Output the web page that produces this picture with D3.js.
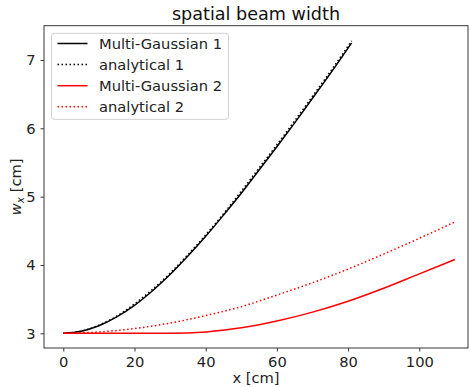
<!DOCTYPE html>
<html>
<head>
<meta charset="utf-8">
<script src="https://cdn.jsdelivr.net/npm/d3@7"></script>
<style>
  body { margin: 0; background: #fff; }
  svg { font-family: "DejaVu Sans", sans-serif; }
</style>
</head>
<body>
<figure id="chart" style="margin:0"></figure>
<script>
// values
var xBlack = [0, 5, 10, 15, 20, 25, 30, 35, 40, 45, 50, 55, 60, 65, 70, 75, 81];
var multiGauss1 = [3.00, 3.03, 3.11, 3.24, 3.41, 3.62, 3.86, 4.13, 4.42, 4.73, 5.05, 5.39, 5.73, 6.08, 6.44, 6.80, 7.25];
var analytical1 = [3.00, 3.03, 3.12, 3.25, 3.43, 3.64, 3.88, 4.15, 4.44, 4.75, 5.08, 5.42, 5.76, 6.11, 6.47, 6.83, 7.28];

var xRed = [0, 10, 20, 30, 40, 50, 60, 70, 80, 90, 100, 110];
var multiGauss2 = [3.00, 3.00, 3.00, 3.00, 3.02, 3.08, 3.18, 3.31, 3.47, 3.66, 3.87, 4.08];
var analytical2 = [3.00, 3.02, 3.07, 3.15, 3.26, 3.39, 3.56, 3.74, 3.94, 4.16, 4.39, 4.63];

var xTicks = [0, 20, 40, 60, 80, 100];
var yTicks = [3, 4, 5, 6, 7];

var seriesNames = ["Multi-Gaussian 1", "analytical 1", "Multi-Gaussian 2", "analytical 2"];

var series = [
  { name: seriesNames[0], xs: xBlack, ys: multiGauss1, color: "#000000", dotted: false },
  { name: seriesNames[1], xs: xBlack, ys: analytical1, color: "#000000", dotted: true },
  { name: seriesNames[2], xs: xRed, ys: multiGauss2, color: "#ff0000", dotted: false },
  { name: seriesNames[3], xs: xRed, ys: analytical2, color: "#ff0000", dotted: true }
];

var width = 470, height = 387;
var plotLeft = 44, plotRight = 468, plotTop = 25.7, plotBottom = 348;

var svg = d3.select("figure#chart")
  .append("svg")
  .attr("width", width)
  .attr("height", height);

var x = d3.scaleLinear().domain([-5.42, 113.68]).range([plotLeft, plotRight]);
var y = d3.scaleLinear().domain([2.785, 7.502]).range([plotBottom, plotTop]);

// lines
var line = d3.line()
  .x(function(d) { return x(d[0]); })
  .y(function(d) { return y(d[1]); })
  .curve(d3.curveMonotoneX);

series.forEach(function(s) {
  var pts = s.xs.map(function(v, i) { return [v, s.ys[i]]; });
  svg.append("path")
    .datum(pts)
    .attr("fill", "none")
    .attr("stroke", s.color)
    .attr("stroke-width", 1.5)
    .attr("stroke-dasharray", s.dotted ? "1.5,2.5" : null)
    .attr("d", line);
});

// axes
var xAxis = svg.append("g")
  .attr("transform", "translate(0," + plotBottom + ")")
  .call(d3.axisBottom(x).tickValues(xTicks).tickSize(3.5).tickPadding(5).tickFormat(d3.format("d")));
var yAxis = svg.append("g")
  .attr("transform", "translate(" + plotLeft + ",0)")
  .call(d3.axisLeft(y).tickValues(yTicks).tickSize(3.5).tickPadding(5).tickFormat(d3.format("d")));

[xAxis, yAxis].forEach(function(g) {
  g.select(".domain").remove();
  g.selectAll(".tick line").attr("stroke", "#222").attr("stroke-width", 0.9);
  g.selectAll(".tick text").attr("fill", "#222").style("font-size", "14.7px").style("font-family", "DejaVu Sans");
});

// frame
svg.append("rect")
  .attr("x", plotLeft).attr("y", plotTop)
  .attr("width", plotRight - plotLeft).attr("height", plotBottom - plotTop)
  .attr("fill", "none").attr("stroke", "#222").attr("stroke-width", 0.9);

// title and labels
svg.append("text")
  .attr("x", (plotLeft + plotRight) / 2).attr("y", 20)
  .attr("text-anchor", "middle")
  .style("font-size", "17.6px").attr("fill", "#111")
  .text("spatial beam width");

svg.append("text")
  .attr("x", (plotLeft + plotRight) / 2).attr("y", 383)
  .attr("text-anchor", "middle")
  .style("font-size", "14.7px").attr("fill", "#222")
  .text("x [cm]");

var yl = svg.append("text")
  .attr("transform", "translate(21," + ((plotTop + plotBottom) / 2) + ") rotate(-90)")
  .attr("text-anchor", "middle")
  .style("font-size", "14.7px").attr("fill", "#222");
yl.append("tspan").style("font-style", "italic").text("w");
yl.append("tspan").style("font-style", "italic").style("font-size", "10.5px").attr("dy", 3).text("x");
yl.append("tspan").attr("dy", -3).text(" [cm]");

// legend
var lg = svg.append("g");
lg.append("rect")
  .attr("x", 51.5).attr("y", 33.3)
  .attr("width", 177).attr("height", 86)
  .attr("rx", 3)
  .attr("fill", "#fff").attr("fill-opacity", 0.8)
  .attr("stroke", "#d0d0d0").attr("stroke-width", 1);

series.forEach(function(s, i) {
  var ry = 43.5 + i * 21.1;
  lg.append("line")
    .attr("x1", 57.5).attr("x2", 87.5)
    .attr("y1", ry).attr("y2", ry)
    .attr("stroke", s.color).attr("stroke-width", 1.5)
    .attr("stroke-dasharray", s.dotted ? "1.5,2.5" : null);
  lg.append("text")
    .attr("x", 99).attr("y", ry + 5.2)
    .style("font-size", "14.7px").attr("fill", "#222")
    .text(s.name);
});
</script>
</body>
</html>
